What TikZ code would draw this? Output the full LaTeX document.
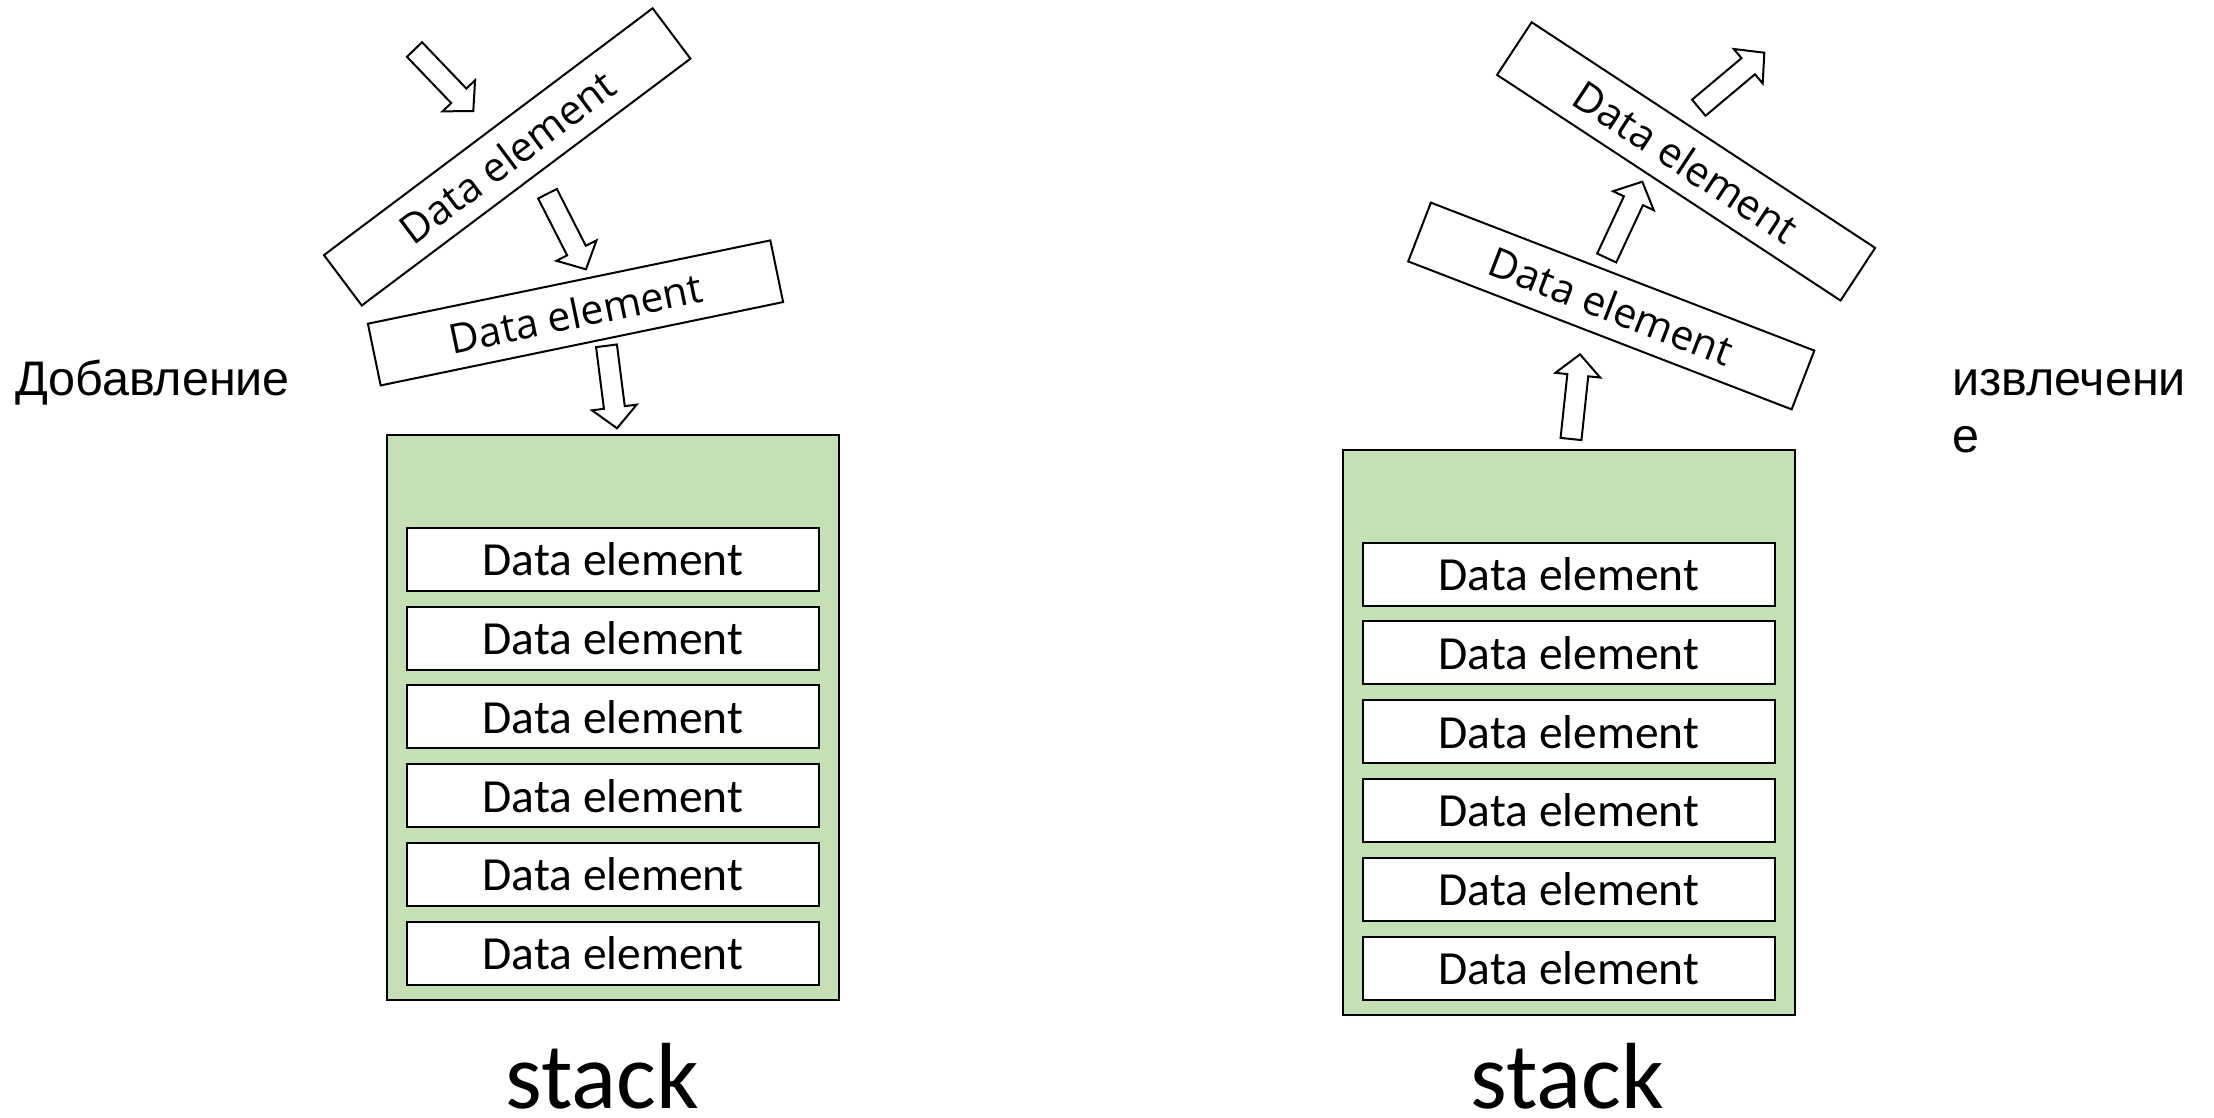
\documentclass[tikz,border=0pt]{standalone}
\usepackage{fontspec}
\setmainfont{Carlito}
\newfontfamily\slantfont{Open Sans}
\newfontfamily\labelfont{Liberation Sans}
\usetikzlibrary{calc}
\definecolor{stackgreen}{HTML}{C5E0B4}

\tikzset{
  cell/.style={draw, line width=2pt, fill=white, minimum width=412pt,
    minimum height=63pt, inner sep=0pt, font=\fontsize{47.5}{56}\selectfont},
  movingcell/.style={draw, line width=2pt, fill=white, minimum width=411pt,
    minimum height=63pt, inner sep=0pt, font=\slantfont\fontsize{41}{50}\selectfont},
  stackbox/.style={draw, line width=2pt, fill=stackgreen, minimum width=452pt,
    minimum height=565pt, inner sep=0pt},
  stacklabel/.style={font=\fontsize{94}{110}\selectfont, inner sep=0pt, anchor=base},
  sidelabel/.style={font=\labelfont\fontsize{48.5}{57}\selectfont, inner sep=0pt,
    anchor=base west, align=left},
  hollowarrow/.style={draw, line width=2pt, fill=white, line join=miter},
}

% hollow block arrow from a tail coordinate to a tip coordinate
\newcommand\blockarrow[2]{%
  \coordinate (#1-h) at ($(#2)!21pt!(#1)$);
  \draw[hollowarrow] ($(#1)!10.5pt!90:(#2)$) -- ($(#1-h)!10.5pt!90:(#2)$)
    -- ($(#1-h)!22.5pt!90:(#2)$) -- (#2) -- ($(#1-h)!22.5pt!-90:(#2)$)
    -- ($(#1-h)!10.5pt!-90:(#2)$) -- ($(#1)!10.5pt!-90:(#2)$) -- cycle;
}

\begin{document}
\begin{tikzpicture}[x=1pt, y=-1pt]
\useasboundingbox (0,0) rectangle (2214,1117);

% push side
\node[stackbox] (pushstack) at (613,717.4) {};
\foreach \i in {0,...,5}
  \node[cell] (pushcell\i) at (613,{559.5+78.74*\i}) {Data element};
\node[movingcell, rotate=36.9] (pushin) at (507.2,156.9) {Data element};
\node[movingcell, rotate=11.7] (pushnext) at (575.5,312.9) {Data element};
\node[stacklabel] (pushname) at (602.5,1108) {stack};
\node[sidelabel] (pushlabel) at (15,395) {Добавление};

\coordinate (pa) at (414.5,49.5);   \coordinate (pa-tip) at (473.3,111);
\coordinate (pb) at (547.5,193.7);  \coordinate (pb-tip) at (586,269.3);
\coordinate (pc) at (606.5,345.8);  \coordinate (pc-tip) at (617,428.3);
\blockarrow{pa}{pa-tip}
\blockarrow{pb}{pb-tip}
\blockarrow{pc}{pc-tip}

% pop side
\node[stackbox] (popstack) at (1569.2,732) {};
\foreach \i in {0,...,5}
  \node[cell] (popcell\i) at (1569,{574+78.86*\i}) {Data element};
\node[movingcell, rotate=-33.3] (popout) at (1686.1,161.4) {Data element};
\node[movingcell, rotate=-21.1] (popnext) at (1611.25,306) {Data element};
\node[stacklabel] (popname) at (1567.5,1108) {stack};
\node[sidelabel] (poplabel) at (1952,452) {извлечени\\е};

\coordinate (qa) at (1571,439);     \coordinate (qa-tip) at (1580,354.3);
\coordinate (qb) at (1606.7,258);   \coordinate (qb-tip) at (1642.3,181.7);
\coordinate (qc) at (1698.8,107.7); \coordinate (qc-tip) at (1764.3,52.7);
\blockarrow{qa}{qa-tip}
\blockarrow{qb}{qb-tip}
\blockarrow{qc}{qc-tip}
\end{tikzpicture}
\end{document}
